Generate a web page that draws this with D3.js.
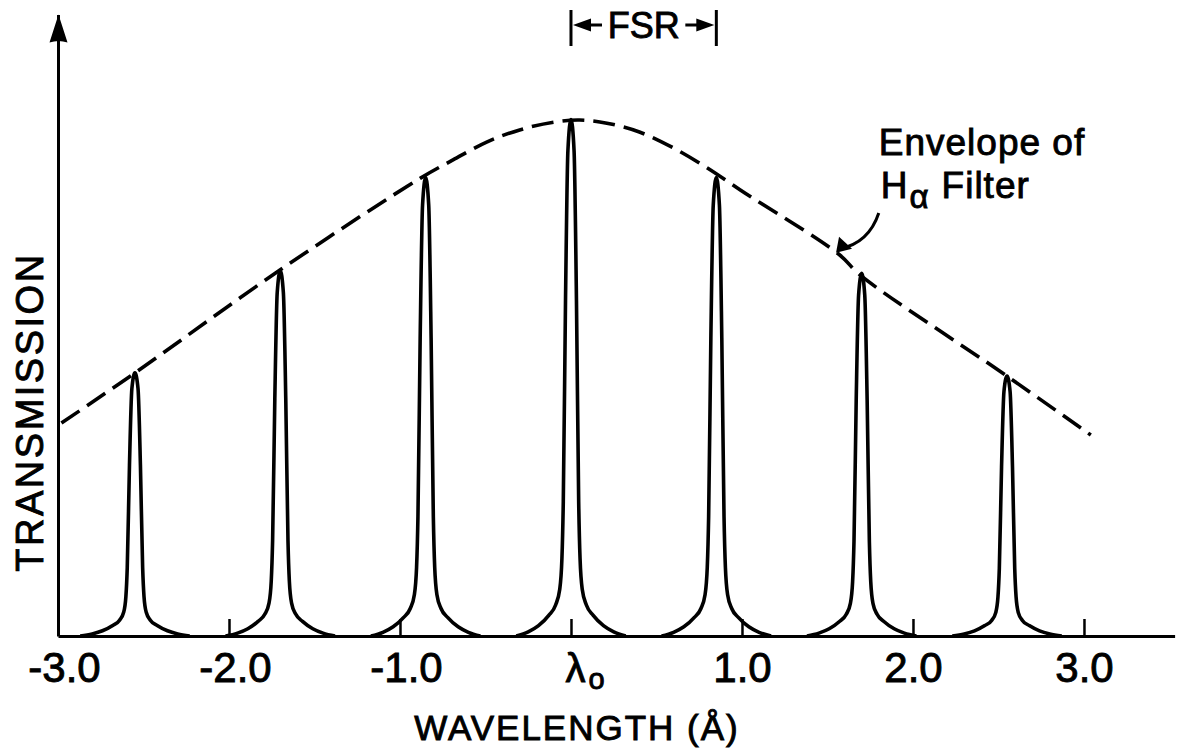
<!DOCTYPE html>
<html>
<head>
<meta charset="utf-8">
<script src="https://cdn.jsdelivr.net/npm/d3@7"></script>
<style>
  html, body { margin: 0; padding: 0; background: #fff; }
  svg { display: block; }
  text { font-family: "Liberation Sans", Arial, sans-serif; fill: #000; stroke: #000; stroke-width: 0.9px; }
</style>
</head>
<body>
<svg id="chart" width="1178" height="751"></svg>
<script>
// Axis ticks (wavelength offset, Å)
const xTicks = [-3, -2, -1, 0, 1, 2, 3];
const xTickLabels = ["-3.0", "-2.0", "-1.0", "λo", "1.0", "2.0", "3.0"];

// Transmission peaks of the Fabry-Perot etalon (centre in Å, relative height)
const peakCenters = [-2.55, -1.70, -0.85, 0, 0.85, 1.70, 2.55];
const peakHeights = [0.508, 0.705, 0.885, 0.997, 0.885, 0.700, 0.502];

// Shape of a single transmission peak: half-width (Å) vs fraction of peak height
const profileDx   = [0, 0.018, 0.032, 0.045, 0.053, 0.066, 0.09, 0.13, 0.19, 0.25, 0.32];
const profileFrac = [1, 0.94, 0.65, 0.26, 0.15, 0.09, 0.06, 0.04, 0.02, 0.008, 0];

// Envelope of the H-alpha blocking filter
const envelopeX = [-2.98, -2.55, -1.70, -0.88, -0.69, -0.49, -0.30, -0.10, 0.05, 0.21, 0.40, 0.60, 0.80, 0.99, 1.57, 1.69, 2.54, 3.04];
const envelopeY = [0.411, 0.508, 0.707, 0.884, 0.919, 0.954, 0.977, 0.992, 0.996, 0.990, 0.973, 0.942, 0.903, 0.861, 0.736, 0.697, 0.504, 0.388];

// Free spectral range bracket (Å)
const fsrRange = [0, 0.85];

const svg = d3.select("#chart");
const x = d3.scaleLinear().domain([-3, 3.53]).range([58, 1174.6]);
const y = d3.scaleLinear().domain([0, 1.2]).range([636, 14.4]);

// ---- axes ----
const xAxis = d3.axisBottom(x)
  .tickValues(xTicks)
  .tickSizeInner(-17)
  .tickSizeOuter(0)
  .tickPadding(16)
  .tickFormat((d, i) => xTickLabels[i]);

const gx = svg.append("g")
  .attr("transform", `translate(0,${y(0)})`)
  .call(xAxis);
gx.select(".domain").attr("stroke-width", 3);
gx.selectAll(".tick line").attr("stroke-width", 2.5);
gx.selectAll(".tick text")
  .attr("font-size", 42)
  .attr("font-family", "Liberation Sans, Arial, sans-serif")
  .each(function (d, i) {
    const t = d3.select(this);
    const label = xTickLabels[i];
    if (label.startsWith("-")) {
      // keep the digits centred on the tick, minus sign hangs to the left
      const full = this.getComputedTextLength();
      t.text(label.slice(1));
      const digits = this.getComputedTextLength();
      t.text(label);
      t.attr("dx", (full - digits) / 2 - 1);
    } else if (label === "λo") {
      t.text(null).attr("text-anchor", "start").attr("x", -6);
      t.append("tspan").attr("font-size", 40).text("λ");
      t.append("tspan").attr("font-size", 29).attr("dx", 3).attr("dy", 7).text("o");
    }
  });

const gy = svg.append("g")
  .attr("transform", `translate(${x(-3)},0)`)
  .call(d3.axisLeft(y).tickValues([]).tickSizeOuter(0));
gy.select(".domain").attr("stroke-width", 3);

// arrowhead on the transmission axis
const ax = x(-3) + 0.5, ay = y(1.2);
svg.append("path")
  .attr("d", `M${ax},${ay} L${ax + 9},${ay + 28} Q${ax},${ay + 25} ${ax - 9},${ay + 28} Z`)
  .attr("fill", "#000");

// ---- transmission peaks ----
const peakLine = d3.line()
  .x(d => x(d[0]))
  .y(d => y(d[1]))
  .curve(d3.curveMonotoneX);

peakCenters.forEach((c, k) => {
  const h = peakHeights[k];
  const pts = [];
  for (let i = profileDx.length - 1; i >= 0; i--) pts.push([c - profileDx[i], h * profileFrac[i]]);
  for (let i = 1; i < profileDx.length; i++) pts.push([c + profileDx[i], h * profileFrac[i]]);
  svg.append("path")
    .attr("d", peakLine(pts))
    .attr("fill", "none")
    .attr("stroke", "#000")
    .attr("stroke-width", 3.6)
    .attr("stroke-linejoin", "round");
});

// ---- filter envelope (dashed) ----
const envLine = d3.line()
  .x((d, i) => x(envelopeX[i]))
  .y(d => y(d))
  .curve(d3.curveCatmullRom);

svg.append("path")
  .attr("d", envLine(envelopeY))
  .attr("fill", "none")
  .attr("stroke", "#000")
  .attr("stroke-width", 3.6)
  .attr("stroke-dasharray", "22,9");

// ---- FSR bracket ----
const fx0 = x(fsrRange[0]), fx1 = x(fsrRange[1]);
const fy = 25;
[fx0, fx1].forEach(px => {
  svg.append("line")
    .attr("x1", px).attr("x2", px).attr("y1", 10).attr("y2", 46)
    .attr("stroke", "#000").attr("stroke-width", 3);
});
svg.append("line").attr("x1", fx0 + 14).attr("x2", fx0 + 31).attr("y1", fy).attr("y2", fy)
  .attr("stroke", "#000").attr("stroke-width", 3);
svg.append("path").attr("d", `M${fx0 + 2},${fy} L${fx0 + 20},${fy - 6.5} L${fx0 + 20},${fy + 6.5} Z`).attr("fill", "#000");
svg.append("line").attr("x1", fx1 - 31).attr("x2", fx1 - 14).attr("y1", fy).attr("y2", fy)
  .attr("stroke", "#000").attr("stroke-width", 3);
svg.append("path").attr("d", `M${fx1 - 2},${fy} L${fx1 - 20},${fy - 6.5} L${fx1 - 20},${fy + 6.5} Z`).attr("fill", "#000");
svg.append("text")
  .attr("x", (fx0 + fx1) / 2).attr("y", 38)
  .attr("text-anchor", "middle")
  .attr("font-size", 36)
  .text("FSR");

// ---- envelope annotation ----
const tx = x(1.8), ty = 155;
svg.append("text")
  .attr("x", tx).attr("y", ty)
  .attr("font-size", 37)
  .attr("letter-spacing", 1)
  .text("Envelope of");
const hLabel = svg.append("text")
  .attr("x", tx + 2).attr("y", ty + 43)
  .attr("font-size", 37);
hLabel.append("tspan").text("H");
hLabel.append("tspan").attr("font-size", 33).attr("dx", 2).attr("dy", 10).text("α");
hLabel.append("tspan").attr("dx", 13).attr("dy", -10).attr("letter-spacing", 1).text("Filter");

// pointer to the dashed envelope
const ex = x(1.55), ey = y(0.74);
const sx = tx, sy = ty + 58;
svg.append("path")
  .attr("d", `M${sx},${sy} Q${sx - 10},${sy + 30} ${ex + 4},${ey - 4}`)
  .attr("fill", "none").attr("stroke", "#000").attr("stroke-width", 3);
svg.append("path")
  .attr("d", `M${ex},${ey} L${ex + 3},${ey - 16} L${ex + 16},${ey - 4} Z`)
  .attr("fill", "#000");

// ---- axis titles ----
svg.append("text")
  .attr("x", 577).attr("y", 740)
  .attr("text-anchor", "middle")
  .attr("font-size", 35)
  .attr("letter-spacing", 2)
  .text("WAVELENGTH (Å)");

svg.append("text")
  .attr("transform", `translate(43,412) rotate(-90)`)
  .attr("text-anchor", "middle")
  .attr("font-size", 38)
  .attr("letter-spacing", 2.5)
  .text("TRANSMISSION");
</script>
</body>
</html>
